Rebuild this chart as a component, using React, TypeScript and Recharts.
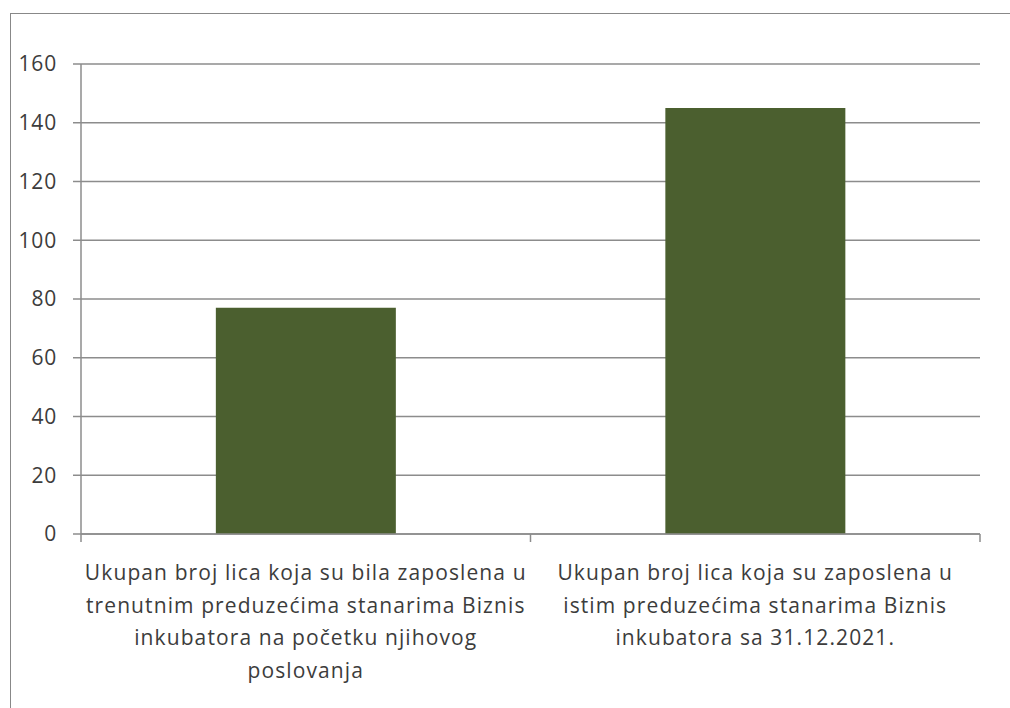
import React from 'react';
import { BarChart, Bar, XAxis, YAxis, CartesianGrid } from 'recharts';

const categoryLines: string[][] = [
  [
    'Ukupan broj lica koja su bila zaposlena u',
    'trenutnim preduzećima stanarima Biznis',
    'inkubatora na početku njihovog',
    'poslovanja',
  ],
  [
    'Ukupan broj lica koja su zaposlena u',
    'istim preduzećima stanarima Biznis',
    'inkubatora sa 31.12.2021.',
  ],
];
const categories = ['c1', 'c2'];
const values = [77, 145];
const yTicks = [0, 20, 40, 60, 80, 100, 120, 140, 160];
const boundaryTicks = [0, 1, 2];

const data = categories.map((c, i) => ({ cat: c, idx: i, value: values[i] }));

const FONT = '"Open Sans", "DejaVu Sans", sans-serif';
const TEXT = '#3c3c3c';
const GRID = '#8c8c8c';

const CatTick = (props: any) => {
  const { x, y, payload } = props;
  const i = categories.indexOf(payload.value);
  const lines = categoryLines[i] || [];
  return (
    <g>
      {lines.map((l, k) => (
        <text
          key={k}
          x={x}
          y={y + 37 + k * 32.7}
          textAnchor="middle"
          fill={TEXT}
          fontFamily={FONT}
          fontSize={21}
          letterSpacing={1.1}
        >
          {l}
        </text>
      ))}
    </g>
  );
};

export default function App() {
  return (
    <div style={{ position: 'fixed', left: 0, top: 0, width: 1010, height: 708, background: '#fff' }}>
      <div
        style={{
          position: 'absolute',
          left: 10,
          top: 13,
          right: 0,
          bottom: 0,
          borderLeft: '1px solid #888',
          borderTop: '1px solid #888',
        }}
      />
      <div style={{ position: 'absolute', left: 0, top: 0 }}>
        <BarChart
          width={1010}
          height={708}
          data={data}
          margin={{ top: 64, right: 30, left: 0, bottom: 0 }}
          barCategoryGap="30%"
        >
          <CartesianGrid vertical={false} stroke={GRID} strokeWidth={1.5} />
          <XAxis
            xAxisId="b"
            dataKey="cat"
            axisLine={false}
            tickLine={false}
            tick={<CatTick />}
            interval={0}
            height={173}
          />
          <XAxis
            xAxisId="a"
            type="number"
            dataKey="idx"
            domain={[0, 2]}
            ticks={boundaryTicks}
            tickFormatter={() => ''}
            axisLine={{ stroke: GRID, strokeWidth: 1.5 }}
            tickLine={{ stroke: GRID, strokeWidth: 1.5 }}
            tickSize={8}
            height={1}
          />
          <YAxis
            domain={[0, 160]}
            ticks={yTicks}
            width={81}
            axisLine={{ stroke: GRID, strokeWidth: 1.5 }}
            tickLine={{ stroke: GRID, strokeWidth: 1.5 }}
            tickSize={8}
            tickMargin={16}
            tick={{ fill: TEXT, fontFamily: FONT, fontSize: 21, letterSpacing: 0.8 }}
          />
          <Bar xAxisId="b" dataKey="value" fill="#4b5f2f" isAnimationActive={false} />
        </BarChart>
      </div>
    </div>
  );
}
